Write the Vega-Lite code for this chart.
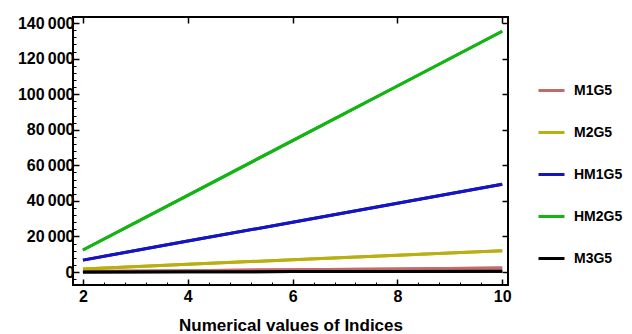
{
  "$schema": "https://vega.github.io/schema/vega-lite/v6.json",
  "width": 435,
  "height": 268,
  "autosize": {"type": "none"},
  "padding": {"left": 73, "top": 17, "right": 124, "bottom": 49},
  "background": "white",
  "config": {
    "view": {"stroke": "black", "strokeWidth": 2},
    "font": "Liberation Sans"
  },
  "datasets": {
    "minorX": [
      {"v": 1.8}, {"v": 2.4}, {"v": 2.8}, {"v": 3.2}, {"v": 3.6}, {"v": 4.4}, {"v": 4.8}, {"v": 5.2}, {"v": 5.6},
      {"v": 6.4}, {"v": 6.8}, {"v": 7.2}, {"v": 7.6}, {"v": 8.4}, {"v": 8.8}, {"v": 9.2}, {"v": 9.6}
    ]
  },
  "data": {
    "values": [
      {"x": 2, "series": "M1G5", "y": 300},
      {"x": 4, "series": "M1G5", "y": 780},
      {"x": 6, "series": "M1G5", "y": 1250},
      {"x": 8, "series": "M1G5", "y": 1730},
      {"x": 10, "series": "M1G5", "y": 2200},
      {"x": 2, "series": "M2G5", "y": 1700},
      {"x": 4, "series": "M2G5", "y": 4300},
      {"x": 6, "series": "M2G5", "y": 6900},
      {"x": 8, "series": "M2G5", "y": 9450},
      {"x": 10, "series": "M2G5", "y": 12000},
      {"x": 2, "series": "HM1G5", "y": 6700},
      {"x": 4, "series": "HM1G5", "y": 17400},
      {"x": 6, "series": "HM1G5", "y": 28000},
      {"x": 8, "series": "HM1G5", "y": 38700},
      {"x": 10, "series": "HM1G5", "y": 49400},
      {"x": 2, "series": "HM2G5", "y": 12400},
      {"x": 4, "series": "HM2G5", "y": 43100},
      {"x": 6, "series": "HM2G5", "y": 73900},
      {"x": 8, "series": "HM2G5", "y": 104600},
      {"x": 10, "series": "HM2G5", "y": 135400},
      {"x": 2, "series": "M3G5", "y": 60},
      {"x": 4, "series": "M3G5", "y": 150},
      {"x": 6, "series": "M3G5", "y": 240},
      {"x": 8, "series": "M3G5", "y": 330},
      {"x": 10, "series": "M3G5", "y": 420}
    ]
  },
  "resolve": {"axis": {"x": "independent", "y": "independent"}},
  "layer": [
    {
      "mark": {"type": "line", "strokeWidth": 3, "clip": true},
      "encoding": {
        "x": {
          "field": "x", "type": "quantitative",
          "scale": {"domain": [1.81, 10.11], "nice": false, "zero": false},
          "axis": {
            "orient": "bottom", "values": [2, 4, 6, 8, 10], "grid": false, "domain": false,
            "tickSize": -6, "tickColor": "black", "tickWidth": 1.5,
            "labelFont": "Liberation Sans", "labelFontSize": 16, "labelFontWeight": "bold", "labelColor": "black",
            "labelPadding": 9,
            "title": "Numerical values of Indices", "titleFont": "Liberation Sans", "titleFontSize": 17,
            "titleFontWeight": "bold", "titleColor": "black", "titlePadding": 13
          }
        },
        "y": {
          "field": "y", "type": "quantitative",
          "scale": {"domain": [-7300, 143400], "nice": false, "zero": false},
          "axis": {
            "orient": "left", "values": [0, 20000, 40000, 60000, 80000, 100000, 120000, 140000],
            "labelExpr": "replace(format(datum.value, ','), ',', '\u2009')",
            "grid": false, "domain": false,
            "tickSize": -6, "tickColor": "black", "tickWidth": 1.5,
            "labelFont": "Liberation Sans", "labelFontSize": 16, "labelFontWeight": "bold", "labelColor": "black",
            "labelPadding": 5, "title": null
          }
        },
        "color": {
          "field": "series", "type": "nominal",
          "scale": {
            "domain": ["M1G5", "M2G5", "HM1G5", "HM2G5", "M3G5"],
            "range": ["#c46a6a", "#b8b010", "#1414c0", "#14b414", "#000000"]
          },
          "legend": {
            "title": null, "orient": "none", "legendX": 464, "legendY": 59,
            "symbolType": "stroke", "symbolSize": 676, "symbolStrokeWidth": 3,
            "labelFont": "Liberation Sans", "labelFontSize": 14, "labelFontWeight": "bold", "labelColor": "black",
            "rowPadding": 20, "labelOffset": 8
          }
        }
      }
    },
    {
      "mark": {"type": "line", "strokeWidth": 3, "clip": true},
      "encoding": {
        "x": {
          "field": "x", "type": "quantitative",
          "axis": {
            "orient": "top", "values": [2, 4, 6, 8, 10], "grid": false, "domain": false, "labels": false,
            "tickSize": -6, "tickColor": "black", "tickWidth": 1.5, "title": null
          }
        },
        "y": {
          "field": "y", "type": "quantitative",
          "axis": {
            "orient": "right", "values": [0, 20000, 40000, 60000, 80000, 100000, 120000, 140000],
            "grid": false, "domain": false, "labels": false,
            "tickSize": -6, "tickColor": "black", "tickWidth": 1.5, "title": null
          }
        },
        "color": {"field": "series", "type": "nominal"}
      }
    },
    {
      "mark": {"type": "line", "strokeOpacity": 0, "clip": true},
      "encoding": {
        "x": {
          "field": "x", "type": "quantitative",
          "axis": {
            "orient": "bottom", "values": [1.8, 2.4, 2.8, 3.2, 3.6, 4.4, 4.8, 5.2, 5.6, 6.4, 6.8, 7.2, 7.6, 8.4, 8.8, 9.2, 9.6],
            "grid": false, "domain": false, "labels": false,
            "tickSize": -3, "tickColor": "black", "tickWidth": 1, "title": null
          }
        },
        "y": {
          "field": "y", "type": "quantitative",
          "axis": {
            "orient": "left", "values": [-4000, 4000, 8000, 12000, 16000, 24000, 28000, 32000, 36000, 44000, 48000, 52000, 56000, 64000, 68000, 72000, 76000, 84000, 88000, 92000, 96000, 104000, 108000, 112000, 116000, 124000, 128000, 132000, 136000],
            "grid": false, "domain": false, "labels": false,
            "tickSize": -3, "tickColor": "black", "tickWidth": 1, "title": null
          }
        },
        "detail": {"field": "series", "type": "nominal"}
      }
    }
  ]
}
